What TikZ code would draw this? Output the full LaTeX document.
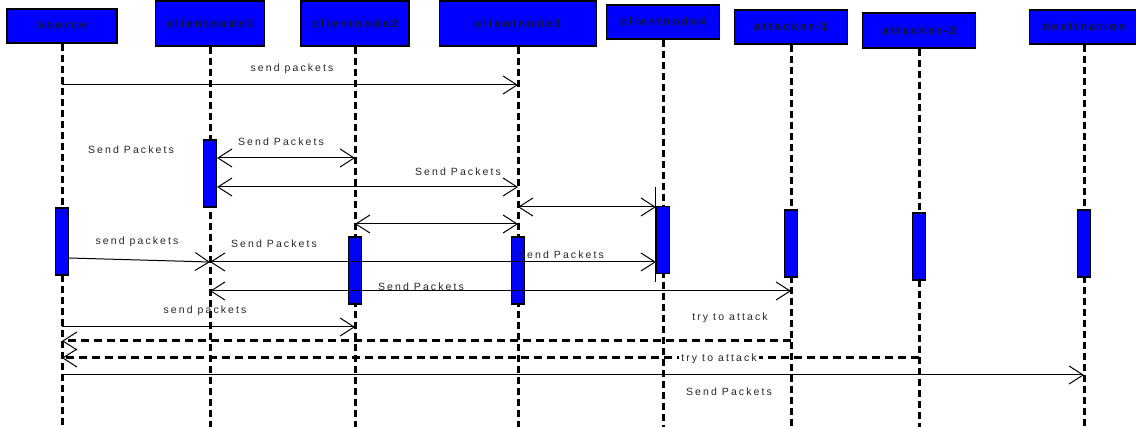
\documentclass[tikz,border=0pt]{standalone}
\usepackage{fontspec}
\setmainfont{Liberation Sans}
\newfontfamily\msgfont[LetterSpace=20]{Liberation Sans}
\newfontfamily\headfont[LetterSpace=22]{Liberation Sans Bold}
\usetikzlibrary{positioning,arrows.meta}
\definecolor{objblue}{RGB}{0,0,255}

\tikzset{
  object/.style={draw, line width=1.4pt, fill=objblue, minimum height=34pt, inner sep=0pt,
    font=\headfont\fontsize{11}{13}\selectfont, text=black!90},
  activation/.style={draw, line width=1.2pt, fill=objblue, minimum width=13pt, minimum height=67pt, inner sep=0pt},
  lifeline/.style={line width=3pt, dash pattern=on 7pt off 4pt},
  msg/.style={line width=1pt},
  attackmsg/.style={line width=3pt, dash pattern=on 8pt off 5pt},
  lbl/.style={font=\msgfont\fontsize{10.5}{12}\selectfont, text=black!85, inner sep=0pt},
  >={Straight Barb[length=14pt,width=18pt,line width=1pt]}
}

\begin{document}
\begin{tikzpicture}[x=1pt,y=-1pt]
\useasboundingbox (0,0) rectangle (1136,427);

% objects
\node[object, minimum width=110pt] (source) at (62,26) {source};
\node[object, minimum width=109pt, minimum height=45pt] (node1) at (210,23.5) {clientnode1};
\node[object, minimum width=108pt, minimum height=45pt] (node2) at (355,23.5) {clientnode2};
\node[object, minimum width=157pt, minimum height=45pt] (node3) at (518,23.5) {clientnode3};
\node[object, minimum width=113pt] (node4) at (663,22) {clientnode4};
\node[object, minimum width=113pt] (att1) at (791,27) {attacker-1};
\node[object, minimum width=113pt, minimum height=35pt] (att2) at (919,30.5) {attacker-2};
\node[object, minimum width=109pt] (dest) at (1084,27) {destination};

% lifelines
\foreach \obj in {source,node1,node2,node3,node4,att1,att2,dest}
  \draw[lifeline] (\obj.south) -- (\obj.south |- 0,427);

% activations
\node[activation] (srcact) at (62,241.5) {};
\node[activation] (node1act) at (210,173.5) {};
\node[activation] (node2act) at (355,270.5) {};
\node[activation] (node3act) at (518,270.5) {};
\node[activation] (node4act) at (663,240) {};
\node[activation] (att1act) at (791,243.5) {};
\node[activation] (att2act) at (919,246.5) {};
\node[activation] (destact) at (1084,243.5) {};

\draw[msg] (node4act.west |- 0,187) -- (node4act.west |- 0,282);

% messages
\draw[msg,->] (source |- 0,85) -- (node3 |- 0,85);
\draw[msg,<->] (node1act.east |- 0,158) -- (node2 |- 0,158);
\draw[msg,<->] (node1act.east |- 0,187) -- (node3 |- 0,187);
\draw[msg,<->] (node3 |- 0,207) -- (node4act.west |- 0,207);
\draw[msg,<->] (node2 |- 0,224) -- (node3 |- 0,224);
\draw[msg,->] (srcact.east |- 0,258) -- (node1 |- 0,262);
\draw[msg,<->] (node1 |- 0,262) -- (node4act.west |- 0,262);
\draw[msg,<->] (node1 |- 0,291) -- (att1 |- 0,291);
\draw[msg,->] (source |- 0,327) -- (node2 |- 0,327);
\draw[attackmsg,->] (att1 |- 0,341) -- (source |- 0,341);
\draw[attackmsg,->] (att2 |- 0,358) -- (source |- 0,358);
\draw[msg,->] (source |- 0,375) -- (dest |- 0,375);

% labels
\node[lbl] (l1) at (292,69) {send packets};
\node[lbl] (l2) at (131,150) {Send Packets};
\node[lbl] (l3) at (281,142) {Send Packets};
\node[lbl] (l4) at (458,172) {Send Packets};
\node[lbl] (l5) at (137,242) {send packets};
\node[lbl] (l6) at (274,244) {Send Packets};
\node[lbl] (l7) at (561,255) {Send Packets};
\node[lbl] (l8) at (421,287) {Send Packets};
\node[lbl] (l9) at (205,311) {send packets};
\node[lbl] (l10) at (730,318) {try to attack};
\node[lbl, fill=white, inner xsep=2pt] (l11) at (719,359) {try to attack};
\node[lbl] (l12) at (729,392) {Send Packets};
\end{tikzpicture}
\end{document}
